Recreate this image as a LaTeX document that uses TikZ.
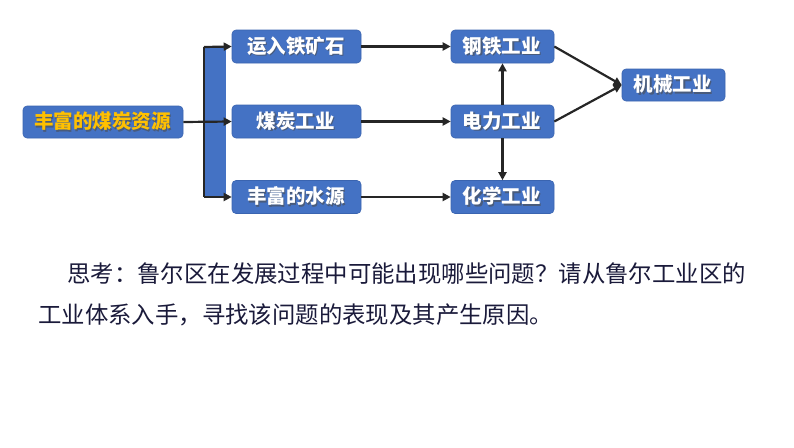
\documentclass[tikz,border=0pt]{standalone}
\usepackage{fontspec}
\setmainfont{Noto Sans CJK SC}
\usetikzlibrary{arrows.meta}
\definecolor{boxblue}{HTML}{4472C4}
\definecolor{boxedge}{HTML}{3A64B0}
\definecolor{gold}{HTML}{FFC000}
\definecolor{linec}{HTML}{262626}
\definecolor{textc}{HTML}{1A1A3A}
\tikzset{
  ibox/.style={fill=boxblue, draw=boxedge, line width=0.6pt, rounded corners=4pt, inner sep=0pt},
  lbl/.style={font=\fontsize{19.5}{19.5}\selectfont\bfseries},
  conn/.style={draw=linec, line width=2.2pt, -{Triangle[length=8pt,width=8pt]}},
  plain/.style={draw=linec, line width=2.2pt},
  para/.style={anchor=west, inner sep=0pt, text=textc, font=\fontsize{23.4}{23.4}\selectfont},
}
\newcommand{\shlabel}[2]{%
  \tikz[baseline=(t.base)]{\node[inner sep=0pt, text=black!70, opacity=0.6] at (1.2pt,-1.2pt) {#2}; \node[inner sep=0pt, text=#1] (t) at (0,0) {#2};}}
\begin{document}
\begin{tikzpicture}[x=1pt,y=-1pt]
\useasboundingbox (0,0) rectangle (794,447);
% bracket band
\fill[boxblue] (204,47) rectangle (226,197);
% boxes
\node[ibox, minimum width=160pt, minimum height=32pt] (coal) at (103,122) {};
\node[lbl] at (coal) {\shlabel{gold}{丰富的煤炭资源}};
\node[ibox, minimum width=129pt, minimum height=33pt] (iron) at (296.5,46.5) {};
\node[lbl] at (iron) {\shlabel{white}{运入铁矿石}};
\node[ibox, minimum width=129pt, minimum height=33pt] (coalind) at (296.5,121.5) {};
\node[lbl] at (coalind) {\shlabel{white}{煤炭工业}};
\node[ibox, minimum width=129pt, minimum height=33pt] (water) at (296.5,197) {};
\node[lbl] at (water) {\shlabel{white}{丰富的水源}};
\node[ibox, minimum width=103pt, minimum height=33pt] (steel) at (502.5,46.5) {};
\node[lbl] at (steel) {\shlabel{white}{钢铁工业}};
\node[ibox, minimum width=103pt, minimum height=33pt] (power) at (502.5,121.5) {};
\node[lbl] at (power) {\shlabel{white}{电力工业}};
\node[ibox, minimum width=103pt, minimum height=33pt] (chem) at (502.5,197) {};
\node[lbl] at (chem) {\shlabel{white}{化学工业}};
\node[ibox, minimum width=103pt, minimum height=32pt] (mach) at (673.5,85) {};
\node[lbl] at (mach) {\shlabel{white}{机械工业}};
% bracket lines
\coordinate (bt) at (204,47);
\coordinate (bb) at (204,197);
\draw[plain] (bt) -- (bb);
\draw[conn] (bt) -- (iron.west);
\draw[conn] (bb) -- (water.west);
\draw[conn] (coal.east) -- (coalind.west);
% main arrows
\draw[conn] (iron.east) -- (steel.west);
\draw[conn] (coalind.east) -- (power.west);
\draw[conn] (water.east) -- (chem.west);
\draw[conn] (power.north) -- (steel.south);
\draw[conn] (power.south) -- (chem.north);
\draw[conn] (steel.east) -- (mach.west);
\draw[conn] (power.east) -- (mach.west);
% paragraph
\node[para] (l1) at (67,274) {思考：鲁尔区在发展过程中可能出现哪些问题？请从鲁尔工业区的};
\node[para] (l2) at (38,315) {工业体系入手，寻找该问题的表现及其产生原因。};
\end{tikzpicture}
\end{document}
